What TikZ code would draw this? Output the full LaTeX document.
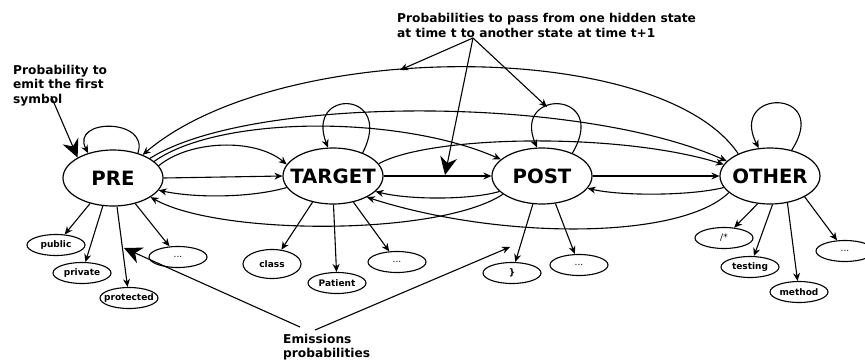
\documentclass[tikz,border=0pt]{standalone}
\usepackage{fontspec}
\setmainfont{DejaVu Sans}
\usetikzlibrary{arrows.meta,shapes.geometric}
\tikzset{
  state/.style={draw, ellipse, line width=1.2pt, minimum width=100pt, minimum height=56pt, inner sep=0pt},
  emit/.style={draw, ellipse, line width=1.1pt, minimum width=58pt, minimum height=21pt, inner sep=0pt},
  statelabel/.style={font=\bfseries\fontsize{19.7}{20}\selectfont, inner sep=0pt},
  emitlabel/.style={font=\bfseries\fontsize{9}{10}\selectfont, inner sep=0pt},
  dotlabel/.style={font=\fontsize{9}{10}\selectfont, inner sep=0pt},
  tr/.style={line width=1.1pt, -{Stealth[length=8pt,width=7pt]}},
  bigarrow/.style={line width=1.1pt, -{Stealth[length=18pt,width=17pt]}},
  note/.style={font=\bfseries\fontsize{12.2}{14.8}\selectfont, align=left, inner sep=0pt, anchor=north west}
}
\begin{document}
\begin{tikzpicture}[x=1pt,y=-1pt]
\useasboundingbox (0,0) rectangle (865,362);
% states
\node[state, label={[statelabel]center:PRE}] (pre) at (113,178) {};
\node[state, label={[statelabel]center:TARGET}] (target) at (333,176) {};
\node[state, label={[statelabel]center:POST}] (post) at (542,176) {};
\node[state, label={[statelabel]center:OTHER}] (other) at (770,176) {};
% emissions
\node[emit, label={[emitlabel]center:public}] (public) at (56,245) {};
\node[emit, label={[emitlabel]center:private}] (private) at (82,273) {};
\node[emit, label={[emitlabel]center:protected}] (protected) at (129,298) {};
\node[emit, label={[dotlabel]center:...}] (dotsA) at (178,257) {};
\node[emit, minimum height=29pt, label={[emitlabel]center:class}] (class) at (272,264) {};
\node[emit, label={[emitlabel]center:Patient}] (patient) at (337,283) {};
\node[emit, label={[dotlabel]center:...}] (dotsB) at (397,262) {};
\node[emit, label={[emitlabel]center:\}}] (brace) at (512,273) {};
\node[emit, label={[dotlabel]center:...}] (dotsC) at (579,265) {};
\node[emit, label={[dotlabel]center:/*}] (slash) at (724,238) {};
\node[emit, label={[emitlabel]center:testing}] (testing) at (750,267) {};
\node[emit, label={[emitlabel]center:method}] (method) at (799,292) {};
\node[emit, label={[dotlabel]center:...}] (dotsD) at (845,251) {};
% self loops
\draw[tr] (pre.45) .. controls (150,118) and (70,118) .. (pre.135);
\draw[tr] (target.38) .. controls (395,90) and (305,88) .. (target.100);
\draw[tr] (post.37) .. controls (610,90) and (512,88) .. (post.100);
\draw[tr] (other.50) .. controls (832,88) and (728,88) .. (other.112);
% transitions
\draw[tr] (pre.east) -- (target.west);
\draw[tr] (pre.15) .. controls (190,140) and (255,138) .. (target.166);
\draw[tr] (target.194) .. controls (250,198) and (195,198) .. (pre.345);
\draw[tr] (pre.22) .. controls (220,115) and (400,115) .. (post.158);
\draw[tr] (post.205) .. controls (440,236) and (220,236) .. (pre.333);
\draw[tr] (pre.28) .. controls (250,95) and (580,95) .. (other.161);
\draw[tr] (other.145) .. controls (660,38) and (280,38) .. (pre.38);
\draw[tr] (target.east) -- (post.west);
\draw[tr] (post.200) .. controls (470,200) and (410,200) .. (target.340);
\draw[tr] (target.15) .. controls (430,135) and (620,132) .. (other.166);
\draw[tr] (other.202) .. controls (680,240) and (500,240) .. (target.328);
\draw[tr] (post.east) -- (other.west);
\draw[tr] (other.194) .. controls (690,196) and (620,196) .. (post.345);
% emission arrows
\draw[tr] (pre.228) -- (public);
\draw[tr] (pre.250) -- (private);
\draw[tr] (pre.278) -- (protected);
\draw[tr] (pre.311) -- (dotsA);
\draw[tr] (target.232) -- (class);
\draw[tr] (target.271) -- (patient);
\draw[tr] (target.308) -- (dotsB);
\draw[tr] (post.252) -- (brace);
\draw[tr] (post.296) -- (dotsC);
\draw[tr] (other.246) -- (slash);
\draw[tr] (other.275) -- (testing);
\draw[tr] (other.303) -- (method);
\draw[tr] (other.329) -- (dotsD);
% annotations
\node[note] (firstnote) at (13,64.6) {Probability to\\emit the first\\symbol};
\node[note] (transnote) at (397,13) {Probabilities to pass from one hidden state\\at time t to another state at time t+1};
\node[note] (emitnote) at (283,333.7) {Emissions\\probabilities};
\coordinate (fA) at (51,96);
\coordinate (tA) at (473,38);
\coordinate (tB) at (400,70);
\coordinate (tC) at (445,175);
\coordinate (tD) at (547,107);
\coordinate (eA) at (300,327);
\coordinate (eA2) at (315,330);
\coordinate (eB) at (124,248);
\coordinate (eC) at (510,247);
\draw[bigarrow] (fA) -- (pre.150);
\draw[tr] (tA) -- (tB);
\draw[bigarrow] (tA) -- (tC);
\draw[tr] (tA) -- (tD);
\draw[bigarrow] (eA) -- (eB);
\draw[tr] (eA2) -- (eC);
\end{tikzpicture}
\end{document}
